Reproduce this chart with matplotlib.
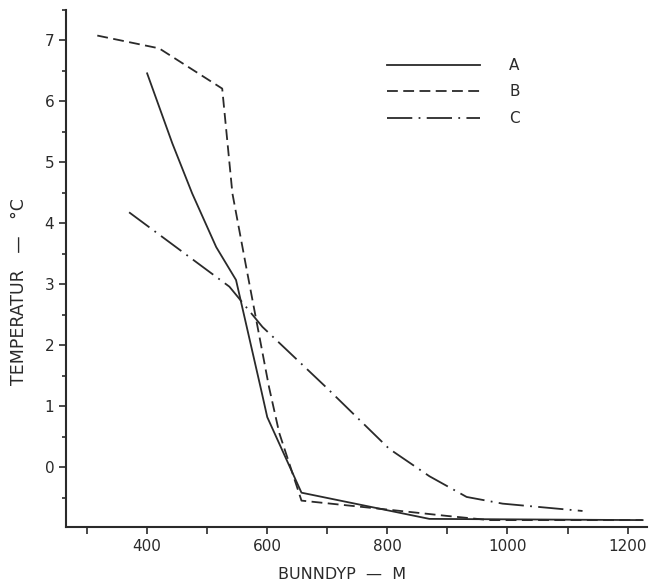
import matplotlib.pyplot as plt
from matplotlib.ticker import MultipleLocator

# curve A (solid)
a_depth = [400, 442, 475, 515, 548, 590, 600, 657, 870, 1225]
a_temp = [6.46, 5.31, 4.49, 3.61, 3.07, 1.26, 0.82, -0.42, -0.85, -0.87]

# curve B (dashed)
b_depth = [317, 420, 525, 542, 565, 603, 620, 657, 803, 898, 970, 1225]
b_temp = [7.08, 6.87, 6.21, 4.49, 3.28, 1.31, 0.56, -0.55, -0.70, -0.80, -0.87, -0.87]

# curve C (dash-dot)
c_depth = [370, 537, 592, 698, 803, 870, 932, 992, 1125]
c_temp = [4.18, 2.96, 2.30, 1.31, 0.30, -0.15, -0.49, -0.60, -0.72]

fig = plt.figure(figsize=(6.54, 5.86), dpi=100)
ax = fig.add_axes([0.101, 0.101, 0.888, 0.882])

ink = '#2a2a2a'
ax.plot(a_depth, a_temp, color=ink, lw=1.3, label='A')
ax.plot(b_depth, b_temp, color=ink, lw=1.3, dashes=(6, 3), label='B')
ax.plot(c_depth, c_temp, color=ink, lw=1.3, dashes=(14, 3.5, 1, 3.5), label='C')

ax.set_xlim(265, 1232)
ax.set_ylim(-0.98, 7.5)

for s in ['top', 'right']:
    ax.spines[s].set_visible(False)
for s in ['left', 'bottom']:
    ax.spines[s].set_linewidth(1.5)
    ax.spines[s].set_color(ink)

ax.xaxis.set_major_locator(MultipleLocator(200))
ax.xaxis.set_minor_locator(MultipleLocator(100))
ax.yaxis.set_major_locator(MultipleLocator(1))
ax.yaxis.set_minor_locator(MultipleLocator(0.5))
ax.set_yticks(range(0, 8))
ax.tick_params(axis='both', which='major', length=5, width=1.2, color=ink,
               labelsize=11, labelcolor=ink)
ax.tick_params(axis='x', which='minor', length=5, width=1.2, color=ink)
ax.tick_params(axis='y', which='minor', length=3, width=1.2, color=ink)

ax.set_xlabel('BUNNDYP  —  M', fontsize=11.5, color=ink)
ax.set_ylabel('TEMPERATUR   —   °C', fontsize=12.5, color=ink)
ax.xaxis.set_label_coords(0.475, -0.077)
ax.yaxis.set_label_coords(-0.066, 0.455)

ax.legend(loc='upper left', bbox_to_anchor=(387 / 654, 1 - 58 / 586),
          bbox_transform=fig.transFigure, frameon=False, fontsize=11,
          handlelength=6.1, handletextpad=1.9, labelspacing=0.75,
          borderpad=0, borderaxespad=0, labelcolor=ink)

fig.savefig('out.png', dpi=100)
